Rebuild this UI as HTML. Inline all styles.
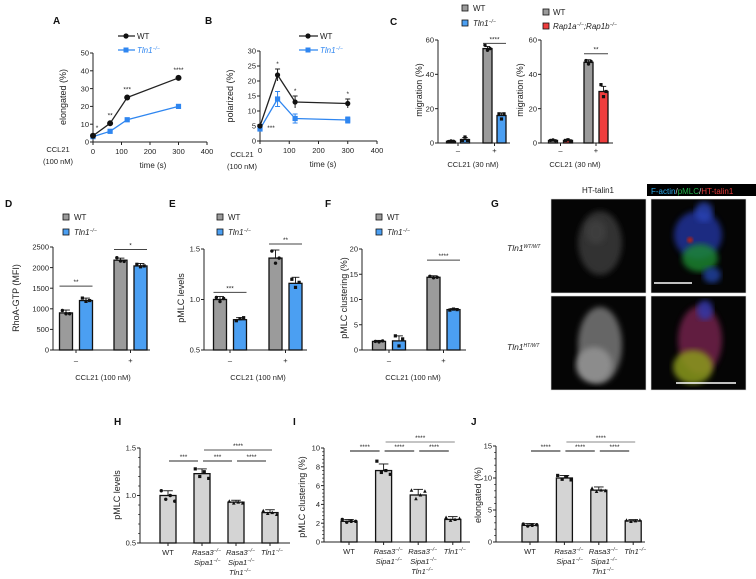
<!DOCTYPE html>
<html><head><meta charset="utf-8">
<style>
html,body{margin:0;padding:0;background:#fff;}
svg{display:block;font-family:"Liberation Sans",Arial,sans-serif;}
</style></head>
<body>
<svg id="fig" width="756" height="579" viewBox="0 0 756 579" xmlns="http://www.w3.org/2000/svg">
<defs>
<filter id="blur3"><feGaussianBlur stdDeviation="3"/></filter>
<filter id="blur1"><feGaussianBlur stdDeviation="1.2"/></filter>
</defs>
</svg>
<script>
// ---------- data ----------
const aTimes=[0,60,120,300];
const aWT=[3.5,10.5,25,36];
const aWTerr=[0.6,1.2,1.2,0.8];
const aTln=[3,6,12.5,20];
const aTlnErr=[0.6,1.2,1.2,0.8];
const aStars=['*','**','***','****'];
const bTimes=[0,60,120,300];
const bWT=[5,22,13,12.5];
const bWTerr=[0.5,2,2,1.5];
const bTln=[4,14,7.5,7];
const bTlnErr=[0.5,2.5,1.5,1];
const bStars=['***','*','*','*'];
const c1Vals=[1,2,55,16];
const c1Errs=[0.4,1.2,1.2,1.5];
const c1Pts=[[0.8,1.2,1],[1.5,3.5,1.5],[57,54,55],[17,14,17]];
const c2Vals=[1.5,1.5,47,30];
const c2Errs=[0.3,0.4,1.5,3];
const c2Pts=[[1.5,1.8,1.3],[1.5,1.9,1.2],[48,46,47.5],[34,27,30]];
const dVals=[900,1200,2180,2040];
const dErrs=[70,60,50,60];
const dPts=[[960,880,880],[1260,1180,1200],[2240,2160,2150],[2080,2020,2040]];
const eVals=[1.0,0.8,1.41,1.16];
const eErrs=[0.03,0.02,0.08,0.06];
const ePts=[[1.02,0.98,1.01],[0.79,0.81,0.82],[1.48,1.36,1.41],[1.2,1.12,1.17]];
const fVals=[1.7,1.8,14.4,8.0];
const fErrs=[0.2,1.0,0.3,0.2];
const fPts=[[1.7,1.6,1.8],[2.8,0.8,2.2],[14.6,14.3,14.4],[7.9,8.1,8.0]];
const hVals=[1.0,1.23,0.93,0.82];
const hErrs=[0.05,0.05,0.02,0.03];
const hPts=[[1.05,0.96,1.0,0.94],[1.28,1.2,1.25,1.18],[0.94,0.92,0.93,0.92],[0.84,0.81,0.82,0.8]];
const iVals=[2.2,7.6,5.0,2.4];
const iErrs=[0.2,0.7,0.6,0.3];
const iPts=[[2.4,2.1,2.2,2.2],[8.6,7.4,7.6,7.2],[5.5,4.6,5.0,5.4],[2.6,2.3,2.4,2.5]];
const jVals=[2.6,10,8.1,3.3];
const jErrs=[0.3,0.4,0.5,0.2];
const jPts=[[2.8,2.5,2.6,2.7],[10.4,9.8,10.2,9.7],[8.4,7.9,8.1,8.0],[3.4,3.2,3.3,3.4]];
const grpLabels=['–','+'];
const geno=['WT','Rasa3','Rasa3','Tln1'];
const aXticks=[0,100,200,300,400];
const aYticks=[0,10,20,30,40,50];
const bYticks=[0,5,10,15,20,25,30];
const cYticks=[0,20,40,60];
const dYticks=[0,500,1000,1500,2000,2500];
const eYticks=[0.5,1.0,1.5];
const fYticks=[0,5,10,15,20];
const hYticks=[0.5,1.0,1.5];
const iYticks=[0,2,4,6,8,10];
const jYticks=[0,5,10,15];

// ---------- helpers ----------
const NS='http://www.w3.org/2000/svg';
const svg=document.getElementById('fig');
function el(tag,attrs,name,parent){
  const e=document.createElementNS(NS,tag);
  for(const k in attrs) e.setAttribute(k,attrs[k]);
  
  
  (parent||svg).appendChild(e);
  return e;
}
function txt(x,y,s,name,o){
  o=o||{};
  const t=el('text',{x:x,y:y,'font-size':o.size||7.5,'text-anchor':o.anchor||'middle',fill:o.fill||'#222','font-weight':o.bold?'bold':'normal','font-style':o.italic?'italic':'normal'},name);
  if(o.rot) t.setAttribute('transform','rotate(-90 '+x+' '+y+')');
  t.textContent=s;
  return t;
}
function sup(t,s){
  const sp=document.createElementNS(NS,'tspan');
  sp.setAttribute('font-size','5');
  sp.setAttribute('dy','-3');
  sp.textContent=s;
  t.appendChild(sp);
}
function lin(d0,d1,p0,p1){return v=>p0+(v-d0)*(p1-p0)/(d1-d0);}
function line(x1,y1,x2,y2,name,stroke,w){return el('line',{x1:x1,y1:y1,x2:x2,y2:y2,stroke:stroke||'#222','stroke-width':w||1},name);}
function yAxis(pfx,x,yS,ticks,fmt,minor){
  line(x,yS(ticks[0]),x,yS(ticks[ticks.length-1]),pfx+'-y-axis','#222',1);
  ticks.forEach(v=>{
    line(x-3,yS(v),x,yS(v),pfx+'-y-tick','#222',1);
    txt(x-4,yS(v)+2.7,fmt(v),pfx+'-y-tick-label',{anchor:'end',size:7.5});
  });
  if(minor){
    for(let i=0;i<ticks.length-1;i++){
      const a=ticks[i],b=ticks[i+1];
      for(let k=1;k<5;k++){const v=a+(b-a)*k/5;line(x-1.8,yS(v),x,yS(v),pfx+'-y-minor-tick','#222',0.8);}
    }
  }
}
function xAxis(pfx,x0,x1,y){line(x0,y,x1,y,pfx+'-x-axis','#222',1);}
function bar(pfx,cx,w,yS,v,base,fill,err,pts,ptShape){
  el('rect',{x:cx-w/2,y:yS(v),width:w,height:base-yS(v),fill:fill,stroke:'#111','stroke-width':1.3},pfx+'-bar');
  const yt=yS(v+err);
  line(cx,yS(v),cx,yt,pfx+'-error-bar','#111',0.9);
  line(cx-w*0.3,yt,cx+w*0.3,yt,pfx+'-error-cap','#111',0.9);
  (pts||[]).forEach((p,i)=>{
    const px=cx+(i-(pts.length-1)/2)*w*0.28;
    if(ptShape==='sq') el('rect',{x:px-1.6,y:yS(p)-1.6,width:3.2,height:3.2,fill:'#111'},pfx+'-data-point');
    else if(ptShape==='tri') el('polygon',{points:(px)+','+(yS(p)-2)+' '+(px-1.8)+','+(yS(p)+1.5)+' '+(px+1.8)+','+(yS(p)+1.5),fill:'#111'},pfx+'-data-point');
    else el('circle',{cx:px,cy:yS(p),r:1.7,fill:'#111'},pfx+'-data-point');
  });
}
function sig(pfx,x1,x2,y,stars,col,w){
  line(x1,y,x2,y,pfx+'-significance-line',col||'#333',w||1);
  txt((x1+x2)/2,y-2,stars,pfx+'-significance-stars',{size:6.5});
}
function tlnLabel(x,y,name,color,size){
  const t=txt(x,y,'Tln1',name,{anchor:'start',italic:true,fill:color||'#222',size:size||8});
  sup(t,'−/−');return t;
}
const GREY='#9b9b9b',BLUE='#4b9ff2',RED='#ee3d3d',LBLUE='#2f86f0';

// ---------- panel labels ----------
[['A',53,24],['B',205,24],['C',390,25],['D',5,207],['E',169,207],['F',325,207],['G',491,207],['H',114,425],['I',293,425],['J',471,425]].forEach(p=>{
  txt(p[1],p[2],p[0],'panel-label-'+p[0].toLowerCase(),{anchor:'start',bold:true,size:10,fill:'#111'});
});

// ---------- Panel A ----------
(function(){
  const xS=lin(0,400,93,207), yS=lin(0,50,142,53);
  yAxis('a',93,yS,aYticks,v=>String(v));
  xAxis('a',93,207,142);
  aXticks.forEach(v=>{line(xS(v),142,xS(v),145,'a-x-tick');txt(xS(v),154,String(v),'a-x-tick-label');});
  txt(66,97,'elongated (%)','a-y-axis-title',{rot:true,size:9});
  txt(58,152,'CCL21','a-ccl21-label',{size:7.5});
  txt(58,164,'(100 nM)','a-ccl21-conc-label',{size:7.5});
  txt(153,168,'time (s)','a-x-axis-title',{size:8});
  const wt=aTimes.map((t,i)=>xS(t)+','+yS(aWT[i])).join(' ');
  const tl=aTimes.map((t,i)=>xS(t)+','+yS(aTln[i])).join(' ');
  el('polyline',{points:tl,fill:'none',stroke:LBLUE,'stroke-width':1.3},'a-tln1-line');
  el('polyline',{points:wt,fill:'none',stroke:'#222','stroke-width':1.3},'a-wt-line');
  aTimes.forEach((t,i)=>{
    const x=xS(t);
    line(x,yS(aTln[i]-aTlnErr[i]),x,yS(aTln[i]+aTlnErr[i]),'a-tln1-error',LBLUE,1);
    el('rect',{x:x-2.6,y:yS(aTln[i])-2.6,width:5.2,height:5.2,fill:LBLUE},'a-tln1-point');
    line(x,yS(aWT[i]-aWTerr[i]),x,yS(aWT[i]+aWTerr[i]),'a-wt-error','#222',1);
    el('circle',{cx:x,cy:yS(aWT[i]),r:3,fill:'#111'},'a-wt-point');
    txt(x+(i===0?4:0),yS(aWT[i])-6,aStars[i],'a-significance-stars',{size:6.5});
  });
  line(118,36,135,36,'a-legend-wt-line','#222',1.3);
  el('circle',{cx:126,cy:36,r:2.6,fill:'#111'},'a-legend-wt-marker');
  txt(137,39,'WT','a-legend-wt-label',{anchor:'start',size:8});
  line(118,50,135,50,'a-legend-tln1-line',LBLUE,1.3);
  el('rect',{x:123.5,y:47.5,width:5,height:5,fill:LBLUE},'a-legend-tln1-marker');
  tlnLabel(137,53,'a-legend-tln1-label',LBLUE);
})();

// ---------- Panel B ----------
(function(){
  const xS=lin(0,400,260,377), yS=lin(0,30,141,51);
  yAxis('b',260,yS,bYticks,v=>String(v));
  xAxis('b',260,377,141);
  aXticks.forEach(v=>{line(xS(v),141,xS(v),144,'b-x-tick');txt(xS(v),153,String(v),'b-x-tick-label');});
  txt(233,96,'polarized (%)','b-y-axis-title',{rot:true,size:9});
  txt(242,157,'CCL21','b-ccl21-label',{size:7.5});
  txt(242,169,'(100 nM)','b-ccl21-conc-label',{size:7.5});
  txt(323,167,'time (s)','b-x-axis-title',{size:8});
  const wt=bTimes.map((t,i)=>xS(t)+','+yS(bWT[i])).join(' ');
  const tl=bTimes.map((t,i)=>xS(t)+','+yS(bTln[i])).join(' ');
  el('polyline',{points:tl,fill:'none',stroke:LBLUE,'stroke-width':1.3},'b-tln1-line');
  el('polyline',{points:wt,fill:'none',stroke:'#222','stroke-width':1.3},'b-wt-line');
  bTimes.forEach((t,i)=>{
    const x=xS(t);
    line(x,yS(bTln[i]-bTlnErr[i]),x,yS(bTln[i]+bTlnErr[i]),'b-tln1-error',LBLUE,1);
    line(x-2.5,yS(bTln[i]+bTlnErr[i]),x+2.5,yS(bTln[i]+bTlnErr[i]),'b-tln1-error-cap',LBLUE,1);
    line(x-2.5,yS(bTln[i]-bTlnErr[i]),x+2.5,yS(bTln[i]-bTlnErr[i]),'b-tln1-error-cap',LBLUE,1);
    el('rect',{x:x-2.6,y:yS(bTln[i])-2.6,width:5.2,height:5.2,fill:LBLUE},'b-tln1-point');
    line(x,yS(bWT[i]-bWTerr[i]),x,yS(bWT[i]+bWTerr[i]),'b-wt-error','#222',1);
    line(x-2.5,yS(bWT[i]+bWTerr[i]),x+2.5,yS(bWT[i]+bWTerr[i]),'b-wt-error-cap','#222',1);
    el('circle',{cx:x,cy:yS(bWT[i]),r:2.6,fill:'#111'},'b-wt-point');
    if(i===0) txt(x+11,yS(bTln[i])+1,bStars[i],'b-significance-stars',{size:6.5});
    else txt(x,yS(bWT[i]+bWTerr[i])-3,bStars[i],'b-significance-stars',{size:6.5});
  });
  line(299,36,318,36,'b-legend-wt-line','#222',1.3);
  el('circle',{cx:308,cy:36,r:2.6,fill:'#111'},'b-legend-wt-marker');
  txt(320,39,'WT','b-legend-wt-label',{anchor:'start',size:8});
  line(299,50,318,50,'b-legend-tln1-line',LBLUE,1.3);
  el('rect',{x:305.5,y:47.5,width:5,height:5,fill:LBLUE},'b-legend-tln1-marker');
  tlnLabel(320,53,'b-legend-tln1-label',LBLUE);
})();

// ---------- grouped bar charts (C, D, E, F) ----------
function grouped(pfx,o){
  const yS=lin(o.d0,o.d1,o.base,o.top);
  const gx=g=>o.g0+g*o.gstep;
  yAxis(pfx,o.ax,yS,o.ticks,o.fmt);
  xAxis(pfx,o.ax,o.axEnd,o.base);
  o.vals.forEach((v,i)=>{
    const g=Math.floor(i/2), s=i%2;
    const cx=gx(g)+(s?1:-1)*o.off;
    bar(pfx,cx,o.bw,yS,v,o.base,o.colors[s],o.errs[i],o.pts[i],s?'sq':'circ');
  });
  grpLabels.forEach((l,g)=>{
    line(gx(g),o.base,gx(g),o.base+3,pfx+'-x-tick');
    txt(gx(g),o.base+(o.lblDy||11),l,pfx+'-x-tick-label',{size:7.5});
  });
  o.sigs.forEach(sg=>{
    const a=gx(sg[0])-o.off-o.bw/2, b=gx(sg[0])+o.off+o.bw/2;
    sig(pfx,a,b,yS(sg[1]),sg[2],'#444',1);
  });
  return yS;
}
grouped('c-left',{d0:0,d1:60,base:143,top:40,ax:438,axEnd:510,g0:458,gstep:36.5,off:7,bw:9,ticks:cYticks,fmt:v=>String(v),vals:c1Vals,errs:c1Errs,pts:c1Pts,colors:[GREY,BLUE],sigs:[[1,58,'****']],lblDy:10});
txt(422,90,'migration (%)','c-left-y-axis-title',{rot:true,size:9});
txt(473,167,'CCL21 (30 nM)','c-left-x-axis-title',{size:7.5});
el('rect',{x:462,y:5,width:6,height:6,fill:GREY,stroke:'#111','stroke-width':0.8},'c-left-legend-wt-swatch');
txt(473,11,'WT','c-left-legend-wt-label',{anchor:'start',size:8});
el('rect',{x:462,y:20,width:6,height:6,fill:BLUE,stroke:'#111','stroke-width':0.8},'c-left-legend-tln1-swatch');
tlnLabel(473,26,'c-left-legend-tln1-label');
grouped('c-right',{d0:0,d1:60,base:143,top:40,ax:541,axEnd:613,g0:560.5,gstep:35.5,off:7.5,bw:9,ticks:cYticks,fmt:v=>String(v),vals:c2Vals,errs:c2Errs,pts:c2Pts,colors:[GREY,RED],sigs:[[1,52,'**']],lblDy:10});
txt(523,90,'migration (%)','c-right-y-axis-title',{rot:true,size:9});
txt(575,167,'CCL21 (30 nM)','c-right-x-axis-title',{size:7.5});
el('rect',{x:543,y:9,width:6,height:6,fill:GREY,stroke:'#111','stroke-width':0.8},'c-right-legend-wt-swatch');
txt(553,15,'WT','c-right-legend-wt-label',{anchor:'start',size:8});
el('rect',{x:543,y:23,width:6,height:6,fill:RED,stroke:'#111','stroke-width':0.8},'c-right-legend-rap-swatch');
(function(){const t=txt(553,29,'Rap1a','c-right-legend-rap-label',{anchor:'start',italic:true,size:8});sup(t,'−/−');
const s2=document.createElementNS(NS,'tspan');s2.setAttribute('dy','3');s2.textContent=';Rap1b';t.appendChild(s2);sup(t,'−/−');})();

function legendDEF(pfx,x){
  el('rect',{x:x-3,y:214,width:6,height:6,fill:GREY,stroke:'#111','stroke-width':0.8},pfx+'-legend-wt-swatch');
  txt(x+8,220,'WT',pfx+'-legend-wt-label',{anchor:'start',size:8});
  el('rect',{x:x-3,y:229,width:6,height:6,fill:BLUE,stroke:'#111','stroke-width':0.8},pfx+'-legend-tln1-swatch');
  tlnLabel(x+8,235,pfx+'-legend-tln1-label');
}
grouped('d',{d0:0,d1:2500,base:350,top:247,ax:53,axEnd:150,g0:76,gstep:54.5,off:10,bw:13,ticks:dYticks,fmt:v=>String(v),vals:dVals,errs:dErrs,pts:dPts,colors:[GREY,BLUE],sigs:[[0,1550,'**'],[1,2440,'*']],lblDy:13});
txt(19,298,'RhoA-GTP (MFI)','d-y-axis-title',{rot:true,size:9});
txt(103,380,'CCL21 (100 nM)','d-x-axis-title',{size:7.5});
legendDEF('d',66);
grouped('e',{d0:0.5,d1:1.5,base:350,top:249,ax:204,axEnd:307,g0:230,gstep:55.5,off:10,bw:13,ticks:eYticks,fmt:v=>v.toFixed(1),vals:eVals,errs:eErrs,pts:ePts,colors:[GREY,BLUE],sigs:[[0,1.07,'***'],[1,1.55,'**']],lblDy:13});
txt(184,298,'pMLC levels','e-y-axis-title',{rot:true,size:9});
txt(258,380,'CCL21 (100 nM)','e-x-axis-title',{size:7.5});
legendDEF('e',220);
grouped('f',{d0:0,d1:20,base:350,top:249,ax:362,axEnd:466,g0:389,gstep:54.5,off:10,bw:13,ticks:fYticks,fmt:v=>String(v),vals:fVals,errs:fErrs,pts:fPts,colors:[GREY,BLUE],sigs:[[1,17.8,'****']],lblDy:13});
txt(347,298,'pMLC clustering (%)','f-y-axis-title',{rot:true,size:9});
txt(413,380,'CCL21 (100 nM)','f-x-axis-title',{size:7.5});
legendDEF('f',379);

// ---------- Panels H, I, J ----------
function genoChart(pfx,o){
  const yS=lin(o.d0,o.d1,o.base,o.top);
  const xC=i=>o.c0+i*o.step;
  yAxis(pfx,o.ax,yS,o.ticks,o.fmt,true);
  xAxis(pfx,o.ax,o.axEnd,o.base);
  const shapes=['circ','sq','tri','tri'];
  o.vals.forEach((v,i)=>{
    bar(pfx,xC(i),16,yS,v,o.base,'#d4d4d4',o.errs[i],o.pts[i],shapes[i]);
    line(xC(i),o.base,xC(i),o.base+3,pfx+'-x-tick');
  });
  geno.forEach((g,i)=>{
    const x=xC(i);
    if(i===0){txt(x,o.base+12,g,pfx+'-x-label-wt',{size:7.5});return;}
    if(i===3){tlnLabel(x-9,o.base+12,pfx+'-x-label-tln1',null,7.5);return;}
    const t1=txt(x-10,o.base+12,'Rasa3',pfx+'-x-label-rasa3',{anchor:'start',italic:true,size:7.5});sup(t1,'−/−');
    const t2=txt(x-8,o.base+22,'Sipa1',pfx+'-x-label-sipa1',{anchor:'start',italic:true,size:7.5});sup(t2,'−/−');
    if(i===2) tlnLabel(x-7,o.base+32,pfx+'-x-label-tln1-triple',null,7.5);
  });
  const sc=o.sigCol, sw=o.sigW;
  [[0,1,o.s1[0]],[1,2,o.s1[1]],[2,3,o.s1[2]]].forEach(p=>sig(pfx,xC(p[0])+1,xC(p[1])-4,o.sy,p[2],sc,sw));
  sig(pfx,xC(1)+2,xC(3)+2,o.ly,o.s1[3],sc,1);
}
genoChart('h',{d0:0.5,d1:1.5,base:543,top:448,ax:140,axEnd:290,c0:168,step:34,ticks:hYticks,fmt:v=>v.toFixed(1),vals:hVals,errs:hErrs,pts:hPts,sy:461,ly:450,s1:['***','***','****','****'],sigCol:'#555',sigW:1.2});
txt(120,495,'pMLC levels','h-y-axis-title',{rot:true,size:9});
genoChart('i',{d0:0,d1:10,base:542,top:448,ax:324,axEnd:470,c0:349,step:34.6,ticks:iYticks,fmt:v=>String(v),vals:iVals,errs:iErrs,pts:iPts,sy:451,ly:442,s1:['****','****','****','****'],sigCol:'#888',sigW:2});
txt(305,497,'pMLC clustering (%)','i-y-axis-title',{rot:true,size:9});
genoChart('j',{d0:0,d1:15,base:542,top:446,ax:496,axEnd:645,c0:530,step:34.4,ticks:jYticks,fmt:v=>String(v),vals:jVals,errs:jErrs,pts:jPts,sy:451,ly:442,s1:['****','****','****','****'],sigCol:'#888',sigW:2});
txt(481,495,'elongated (%)','j-y-axis-title',{rot:true,size:9});

// ---------- Panel G (microscopy) ----------
(function(){
  txt(598,193,'HT-talin1','g-column-title',{size:8});
  el('rect',{x:647,y:184,width:109,height:12,fill:'#000'},'g-channel-legend-bg');
  const t=el('text',{x:651,y:194,'font-size':8,'text-anchor':'start'},'g-channel-legend');
  [['F-actin','#2aa6e6'],['/','#ccc'],['pMLC','#22b04a'],['/','#ccc'],['HT-talin1','#e43a3a']].forEach(p=>{
    const s=document.createElementNS(NS,'tspan');s.setAttribute('fill',p[1]);s.textContent=p[0];t.appendChild(s);
  });
  const tl1=txt(507,251,'Tln1','g-row-label-wt',{anchor:'start',italic:true,size:8.5});sup(tl1,'WT/WT');
  const tl2=txt(507,350,'Tln1','g-row-label-ht',{anchor:'start',italic:true,size:8.5});sup(tl2,'HT/WT');
  const panes=[[551,199],[651,199],[551,296],[651,296]];
  panes.forEach((p,i)=>{
    el('rect',{x:p[0],y:p[1],width:95,height:94,fill:'#050505',stroke:'#ddd','stroke-width':0.6},'g-image-'+(i+1));
  });
  el('ellipse',{cx:600,cy:243,rx:22,ry:32,fill:'#303030',filter:'url(#blur3)'},'g-cell-wt-grey');
  el('ellipse',{cx:596,cy:232,rx:10,ry:12,fill:'#3c3c3c',filter:'url(#blur3)'},'g-cell-wt-grey-spot');
  el('ellipse',{cx:698,cy:235,rx:24,ry:24,fill:'#2236a0',opacity:0.8,filter:'url(#blur3)'},'g-cell-wt-blue');
  el('ellipse',{cx:704,cy:212,rx:9,ry:10,fill:'#2c44b8',opacity:0.8,filter:'url(#blur3)'},'g-cell-wt-blue-tip');
  el('ellipse',{cx:700,cy:258,rx:18,ry:14,fill:'#1a8a30',opacity:0.8,filter:'url(#blur3)'},'g-cell-wt-green');
  el('ellipse',{cx:712,cy:275,rx:9,ry:8,fill:'#2444a8',opacity:0.8,filter:'url(#blur3)'},'g-cell-wt-blue-tail');
  el('circle',{cx:690,cy:240,r:3,fill:'#a02424',filter:'url(#blur1)'},'g-cell-wt-red');
  line(654,283,692,283,'g-scale-bar-1','#fff',1.5);
  el('ellipse',{cx:600,cy:345,rx:22,ry:38,fill:'#666',filter:'url(#blur3)'},'g-cell-ht-grey');
  el('ellipse',{cx:594,cy:365,rx:18,ry:18,fill:'#8c8c8c',filter:'url(#blur3)'},'g-cell-ht-grey-bright');
  el('ellipse',{cx:700,cy:340,rx:22,ry:34,fill:'#72244c',opacity:0.85,filter:'url(#blur3)'},'g-cell-ht-magenta');
  el('ellipse',{cx:705,cy:310,rx:8,ry:10,fill:'#3038a8',opacity:0.85,filter:'url(#blur3)'},'g-cell-ht-blue-tip');
  el('ellipse',{cx:693,cy:367,rx:20,ry:17,fill:'#8a9a1c',opacity:0.85,filter:'url(#blur3)'},'g-cell-ht-yellow');
  line(676,383,736,383,'g-scale-bar-2','#fff',1.5);
})();
</script>
</body></html>
